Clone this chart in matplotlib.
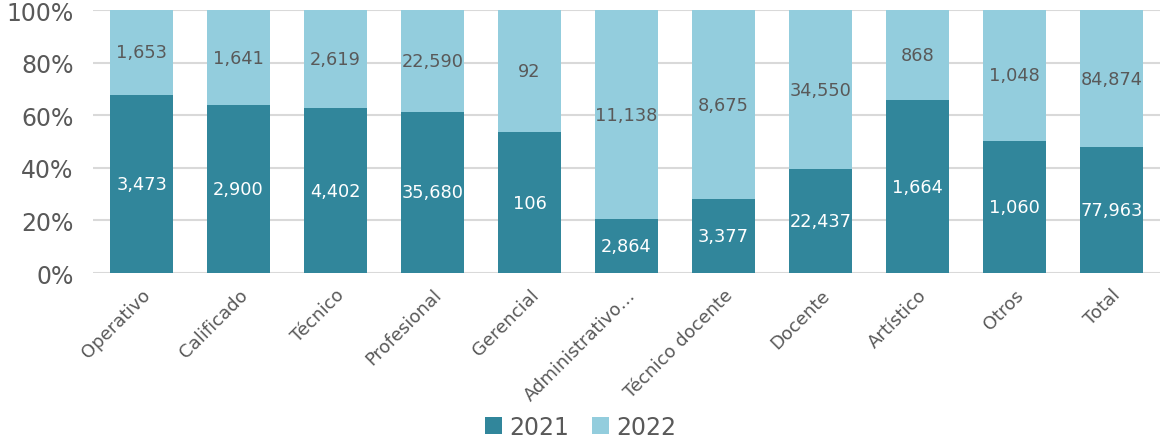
import numpy as np
import matplotlib
matplotlib.use("Agg")
import matplotlib.pyplot as plt

categorias = ["Operativo", "Calificado", "Técnico", "Profesional", "Gerencial",
              "Administrativo…", "Técnico docente", "Docente", "Artístico",
              "Otros", "Total"]
valores_2021 = [3473, 2900, 4402, 35680, 106, 2864, 3377, 22437, 1664, 1060, 77963]
valores_2022 = [1653, 1641, 2619, 22590, 92, 11138, 8675, 34550, 868, 1048, 84874]
series = ["2021", "2022"]

color_2021 = "#31869B"
color_2022 = "#93CDDD"
gris = "#595959"

plt.rcParams["font.family"] = ["DejaVu Sans"]

v21 = np.array(valores_2021, dtype=float)
v22 = np.array(valores_2022, dtype=float)
total = v21 + v22
p21 = v21 / total * 100
p22 = v22 / total * 100

fig = plt.figure(figsize=(11.61, 4.39), dpi=100)
ax = fig.add_axes([93 / 1161, 1 - 274 / 439, (1160 - 93) / 1161, (274 - 11) / 439])

x = np.arange(len(categorias))
ancho = 0.65
b1 = ax.bar(x, p21, width=ancho, color=color_2021, label=series[0], zorder=3)
b2 = ax.bar(x, p22, width=ancho, bottom=p21, color=color_2022, label=series[1], zorder=3)

# etiquetas de valor centradas en cada segmento
for i in range(len(categorias)):
    ax.text(x[i], p21[i] / 2, f"{valores_2021[i]:,}", ha="center", va="center",
            color="white", fontsize=12.8, zorder=4)
    ax.text(x[i], p21[i] + p22[i] / 2, f"{valores_2022[i]:,}", ha="center", va="center",
            color=gris, fontsize=12.8, zorder=4)

ax.set_xlim(-0.5, len(categorias) - 0.5)
ax.set_ylim(0, 100)
ax.set_yticks(np.arange(0, 101, 20))
ax.set_yticklabels([f"{v}%" for v in range(0, 101, 20)], fontsize=17, color=gris)
ax.set_xticks(x)
ax.set_xticklabels(categorias, rotation=45, ha="right", rotation_mode="anchor",
                   fontsize=13, color=gris)
ax.tick_params(axis="both", length=0)
ax.tick_params(axis="x", pad=9)
ax.tick_params(axis="y", pad=14)
ax.yaxis.grid(True, color="#D9D9D9", linewidth=1.5, zorder=0)
for s in ax.spines.values():
    s.set_visible(False)

fig.legend(handles=[b1, b2], labels=series, loc="lower center", ncol=2,
           bbox_to_anchor=(0.5, -0.05), frameon=False, fontsize=17,
           labelcolor=gris, handlelength=0.7, handleheight=0.7,
           handletextpad=0.3, columnspacing=1.0)

fig.savefig("out.png", dpi=100)
